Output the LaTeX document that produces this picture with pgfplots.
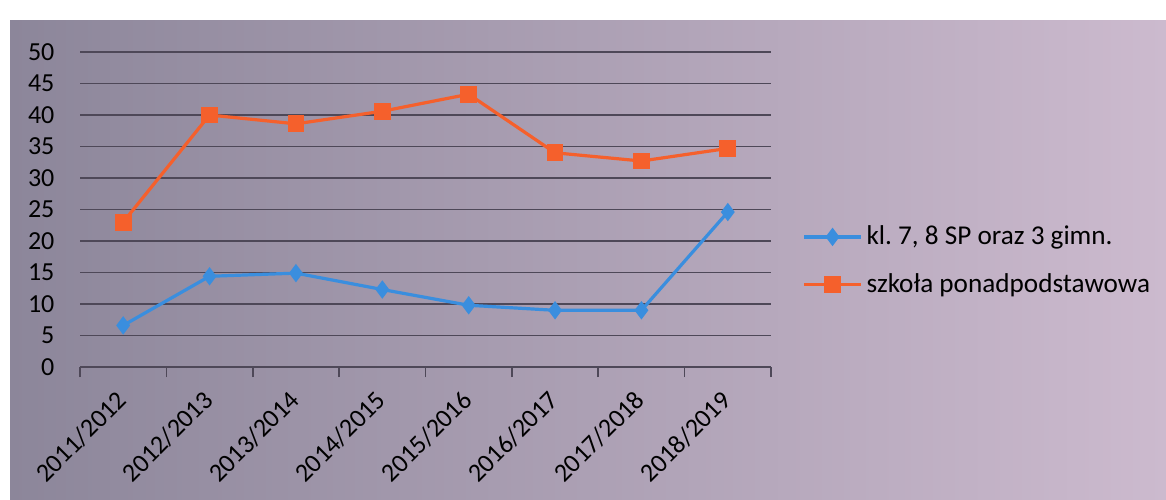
\documentclass[border=0pt]{standalone}
\usepackage{pgfplots}
\pgfplotsset{compat=1.18}
\usepackage{fontspec}
\setmainfont{Carlito}

\definecolor{serA}{RGB}{58,142,222}
\definecolor{serB}{RGB}{245,96,44}
\definecolor{bgL}{RGB}{140,134,154}
\definecolor{bgR}{RGB}{204,186,206}
\definecolor{gridc}{RGB}{78,72,88}

\begin{document}
\begin{tikzpicture}[font=\fontsize{13}{15}\selectfont]
\fill[white] (-40pt,-66pt) rectangle (543pt,183.5pt);
\useasboundingbox (-40pt,-66pt) rectangle (543pt,183.5pt);
\shade[left color=bgL, right color=bgR] (-35pt,-66pt) rectangle (543pt,173pt);
\begin{axis}[
  scale only axis,
  width=345.5pt, height=157.5pt,
  xmin=-0.5, xmax=7.5,
  ymin=0, ymax=50,
  ytick={0,5,...,50},
  xtick={0,...,7},
  xticklabels={2011/2012,2012/2013,2013/2014,2014/2015,2015/2016,2016/2017,2017/2018,2018/2019},
  minor xtick={-0.5,0.5,...,7.5},
  xtick pos=lower,
  major x tick style={draw=none},
  minor x tick style={gridc, line width=0.8pt},
  minor tick length=5pt,
  tick align=outside,
  ymajorgrids,
  grid style={gridc, line width=0.9pt},
  axis line style={draw=none},
  ytick style={draw=none},
  /pgf/number format/assume math mode=true,
  yticklabel style={xshift=-5pt},
  xticklabel style={xshift=-4pt, yshift=-5pt, rotate=45, anchor=north east, inner sep=1pt},
  legend style={at={(1.045,0.337)}, anchor=west, draw=none, fill=none,
    inner sep=0pt, row sep=9pt, cells={anchor=west},
    font=\fontsize{13.6}{15}\selectfont},
  legend image code/.code={\draw[mark repeat=2, mark phase=2] plot coordinates {(0cm,0cm)(0.5cm,0cm)(1cm,0cm)};},
]
\addplot[serA, line width=1.6pt, mark=diamond*, mark size=3.3pt, mark options={solid}]
  coordinates {(0,6.6)(1,14.4)(2,14.9)(3,12.3)(4,9.8)(5,9.0)(6,9.0)(7,24.6)};
\addlegendentry{kl.\ 7, 8 SP oraz 3 gimn.}
\addplot[serB, line width=1.6pt, mark=square*, mark size=3.4pt]
  coordinates {(0,23)(1,40)(2,38.6)(3,40.6)(4,43.3)(5,34.0)(6,32.7)(7,34.7)};
\addlegendentry{szkoła ponadpodstawowa}
\draw[gridc, line width=0.9pt] (axis cs:-0.5,0) -- (axis cs:7.5,0);
\end{axis}
\end{tikzpicture}
\end{document}
